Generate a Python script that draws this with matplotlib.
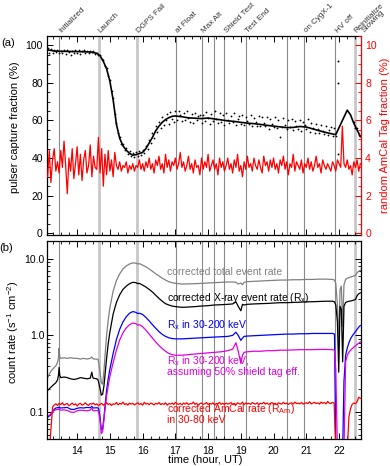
import numpy as np
import matplotlib
matplotlib.use('Agg')
import matplotlib.pyplot as plt
from matplotlib.ticker import MultipleLocator, FixedLocator, FixedFormatter, LogLocator, NullFormatter

plt.rcParams['font.family'] = ['Liberation Sans', 'DejaVu Sans']
plt.rcParams['mathtext.default'] = 'regular'
plt.rcParams['font.size'] = 7.5

# ---------------- events ----------------
event_times = [13.45, 14.66, 15.84, 17.01, 17.81, 18.18, 18.50, 19.16, 20.41, 20.94, 21.89, 22.48]
event_light = [False, True, True, False, False, False, False, False, False, False, False, True]
label_times = [13.45, 14.66, 15.84, 17.01, 17.81, 18.50, 19.16, 20.94, 21.89, 22.48]
label_texts = ['Initialized', 'Launch', 'DGPS Fail', 'at Float', 'Max Alt', 'Shield Test',
               'Test End', 'on CygX-1', 'HV off', 'Reinitialize']
label2_time = 22.48
label2_text = 'Stowing'

# ---------------- panel (a) ----------------
sample_start = 13.10
sample_step = 0.05

pulser_t = [13.10, 13.30, 13.60, 14.00, 14.40, 14.60, 14.70, 14.80, 14.90, 15.00,
            15.10, 15.20, 15.30, 15.40, 15.50, 15.60, 15.70, 15.80, 15.90, 16.00,
            16.10, 16.20, 16.30, 16.40, 16.50, 16.60, 16.70, 16.80, 16.90, 17.00,
            17.20, 17.40, 17.60, 17.80, 18.00, 18.20, 18.40, 18.60, 18.80, 19.00,
            19.20, 19.40, 19.60, 19.80, 20.00, 20.20, 20.40, 20.60, 20.80, 21.00,
            21.20, 21.40, 21.60, 21.80, 21.90, 22.25, 22.35, 22.45, 22.55, 22.65]
pulser_v = [97.6, 97.0, 96.8, 96.7, 96.5, 95.8, 94.5, 91.5, 87.5, 81.0,
            71.0, 58.0, 50.5, 46.5, 44.2, 42.5, 41.5, 41.8, 42.4, 43.0,
            45.0, 48.0, 51.0, 54.5, 57.0, 59.0, 60.5, 61.5, 62.2, 62.4,
            62.0, 61.4, 61.2, 61.0, 61.3, 60.8, 60.3, 59.8, 59.5, 59.0,
            58.6, 58.3, 57.9, 57.4, 57.0, 56.6, 56.2, 56.3, 56.8, 56.5,
            55.5, 54.5, 53.6, 52.8, 52.5, 65.5, 63.0, 58.5, 55.0, 51.5]

nan = float('nan')
pulser_dots = [98.5, 96.2, 97.9, 96.0, 97.8, 96.3, 97.5, 95.9, 97.2, 96.0,
               97.6, 95.6, 97.3, 96.4, 94.9, 97.1, 96.2, 97.8, 96.0, 97.3,
               95.4, 96.9, 97.5, 96.1, 97.2, 95.8, 97.0, 96.3, 96.9, 95.5,
               96.2, 94.7, 95.0, 92.6, 92.0, 89.1, 88.2, 83.8, 81.7, 75.6,
               71.9, 63.6, 58.8, 53.2, 51.4, 47.5, 47.3, 44.4, 45.1, 42.4,
               43.6, 41.0, 42.7, 40.4, 43.0, 41.2, 43.9, 41.5, 44.2, 42.6,
               46.3, 45.0, 49.6, 47.8, 53.1, 50.9, 56.8, 53.6, 59.4, 55.9,
               61.7, 57.4, 60.2, 63.5, 58.2, 64.6, 61.0, 59.3, 65.2, 60.1,
               64.8, 62.9, 59.7, 63.9, 60.4, 65.1, 61.5, 59.2, 63.6, 58.8,
               64.2, 60.0, 62.5, 63.1, 58.6, 62.9, 59.5, 64.4, 61.2, 58.3,
               63.3, 59.9, 64.9, 61.0, 58.7, 63.8, 59.4, 62.7, 57.6, 63.9,
               60.2, 58.5, 62.4, 59.1, 64.2, 57.8, 60.9, 62.6, 58.2, 63.1,
               57.5, 61.8, 59.6, 58.0, 62.9, 56.9, 61.5, 59.2, 57.3, 62.2,
               56.8, 61.9, 58.5, 57.1, 62.0, 55.6, 60.9, 58.1, 56.4, 61.6,
               55.9, 60.4, 51.0, 56.7, 61.3, 57.4, 55.2, 60.1, 56.3, 60.6,
               54.9, 59.8, 57.0, 55.7, 60.3, 54.6, 59.2, 57.6, 55.3, 60.8,
               54.0, 58.6, 56.1, 53.5, 58.0, 55.4, 53.1, 57.4, 54.6, 52.6,
               57.0, 52.4, 55.1, 56.3, 51.7, 55.8, 51.5,
               nan, nan, nan, nan, nan, nan, nan, nan, nan, nan,
               59.3, 55.9, 56.2, 52.4, 52.0]
outlier_t = [21.97, 21.97, 21.98]
outlier_v = [91.6, 80.0, 42.0]

amcal_tag_pct = [3.0, 4.4, 2.7, 3.9, 4.5, 3.3, 3.8, 3.2, 4.4, 3.5,
                 4.9, 3.6, 2.1, 4.0, 3.3, 4.5, 2.9, 3.7, 4.6, 3.1,
                 4.2, 2.8, 3.9, 4.4, 3.2, 3.6, 4.7, 3.0, 4.1, 3.5,
                 3.4, 5.1, 3.2, 4.5, 2.5, 4.2, 3.1, 4.4, 3.3, 3.9,
                 3.0, 4.3, 3.6, 3.4, 3.8, 3.3, 3.6, 3.5, 3.8, 3.2,
                 3.6, 3.4, 3.7, 3.3, 3.6, 3.5, 3.9, 3.4, 3.7, 3.3,
                 3.8, 3.5, 4.0, 3.4, 3.7, 3.2, 3.9, 3.6, 4.1, 3.4,
                 3.7, 3.2, 4.2, 3.5, 3.9, 3.3, 3.8, 3.6, 4.0, 3.4,
                 3.7, 4.3, 3.5, 3.8, 3.3, 3.6, 4.1, 3.4, 3.7, 3.2,
                 3.9, 3.5, 3.6, 3.1, 4.0, 3.4, 3.8, 3.5, 4.2, 3.3,
                 3.6, 3.9, 3.4, 3.7, 3.1, 4.0, 3.5, 3.8, 3.3, 3.6,
                 4.0, 3.4, 3.7, 3.2, 3.9, 3.5, 4.2, 3.3, 3.6, 3.0,
                 3.8, 3.4, 4.1, 3.5, 3.7, 3.3, 4.0, 3.6, 3.4, 3.9,
                 3.5, 3.2, 4.1, 3.6, 3.8, 3.3, 3.9, 3.5, 4.0, 3.4,
                 3.7, 3.2, 3.9, 3.6, 4.1, 3.4, 3.8, 3.1, 3.7, 3.5,
                 4.2, 3.3, 3.8, 3.6, 3.4, 3.9, 3.2, 3.7, 3.5, 4.0,
                 3.4, 3.8, 3.3, 3.6, 4.1, 3.5, 3.7, 3.2, 3.9, 3.6,
                 3.4, 3.7, 3.5, 3.3, 3.8, 3.6, 3.3, 3.9, 3.7, 3.5,
                 5.7, 3.7, 3.5, 3.9, 3.4, 3.6, 3.1, 3.8, 3.5, 3.9,
                 3.3, 3.7]

# ---------------- panel (b) ----------------
rate_t = [13.10, 13.15, 13.20, 13.25, 13.30, 13.35, 13.40, 13.43, 13.45, 13.47,
          13.50, 13.60, 13.70, 13.80, 13.90, 14.00, 14.10, 14.20, 14.30, 14.40,
          14.45, 14.48, 14.50, 14.60, 14.64, 14.66, 14.70, 14.74, 14.78, 14.82,
          14.86, 14.90, 14.95, 15.00, 15.10, 15.20, 15.30, 15.40, 15.50, 15.60,
          15.70, 15.80, 15.85, 15.90, 16.00, 16.10, 16.20, 16.30, 16.40, 16.50,
          16.60, 16.70, 16.80, 16.90, 17.00, 17.20, 17.40, 17.60, 17.80, 18.00,
          18.20, 18.40, 18.60, 18.75, 18.85, 18.92, 19.00, 19.05, 19.10, 19.20,
          19.40, 19.60, 19.80, 20.00, 20.20, 20.40, 20.60, 20.80, 21.00, 21.20,
          21.40, 21.60, 21.80, 21.86, 21.90, 21.95, 21.99, 22.03, 22.07, 22.11,
          22.15, 22.20, 22.25, 22.30, 22.35, 22.40, 22.45, 22.50, 22.55, 22.60,
          22.65]
total_rate = [0.28, 0.31, 0.34, 0.36, 0.38, 0.40, 0.44, 0.50, 0.68, 0.52,
              0.50, 0.51, 0.50, 0.51, 0.50, 0.50, 0.49, 0.50, 0.49, 0.50,
              0.52, 0.50, 0.49, 0.49, 0.48, 0.44, 0.33, 0.24, 0.23, 0.35,
              0.60, 1.00, 1.6, 2.3, 3.8, 5.2, 6.4, 7.4, 8.1, 8.6,
              8.9, 8.8, 8.6, 8.7, 8.3, 7.9, 7.4, 6.9, 6.4, 6.0,
              5.6, 5.3, 5.05, 4.9, 4.8, 4.7, 4.72, 4.75, 4.8, 4.85,
              4.9, 4.95, 5.0, 5.0, 4.95, 4.7, 4.85, 4.6, 4.95, 5.05,
              5.1, 5.15, 5.2, 5.25, 5.3, 5.3, 5.35, 5.35, 5.4, 5.4,
              5.45, 5.45, 5.4, 5.3, 4.8, 2.5, 0.8, 4.0, 4.4, 1.3,
              4.6, 5.4, 5.6, 5.7, 5.8, 5.9, 6.0, 6.1, 6.6, 6.9,
              7.1]
xray_rate = [0.19, 0.20, 0.21, 0.22, 0.23, 0.24, 0.26, 0.30, 0.38, 0.30,
             0.28, 0.285, 0.28, 0.27, 0.265, 0.27, 0.28, 0.275, 0.27, 0.275,
             0.33, 0.28, 0.275, 0.27, 0.26, 0.24, 0.20, 0.165, 0.17, 0.22,
             0.33, 0.50, 0.78, 1.10, 1.9, 2.7, 3.4, 4.0, 4.4, 4.75,
             4.95, 4.9, 4.75, 4.8, 4.55, 4.3, 4.0, 3.7, 3.35, 3.05,
             2.8, 2.6, 2.5, 2.42, 2.38, 2.33, 2.35, 2.38, 2.42, 2.45,
             2.5, 2.52, 2.55, 2.58, 2.75, 2.4, 2.1, 2.55, 2.5, 2.55,
             2.58, 2.6, 2.62, 2.65, 2.68, 2.68, 2.7, 2.72, 2.75, 2.76,
             2.78, 2.8, 2.8, 2.75, 2.5, 1.5, 0.33, 2.4, 2.2, 0.45,
             2.4, 2.7, 2.75, 2.8, 2.82, 2.85, 2.9, 2.95, 3.3, 3.5,
             3.6]
xray_30_200 = [0.085, 0.088, 0.092, 0.100, 0.108, 0.112, 0.113, 0.114, 0.115, 0.113,
               0.112, 0.113, 0.114, 0.108, 0.107, 0.111, 0.113, 0.112, 0.114, 0.113,
               0.118, 0.113, 0.112, 0.113, 0.112, 0.108, 0.085, 0.058, 0.060, 0.085,
               0.13, 0.19, 0.27, 0.36, 0.58, 0.88, 1.2, 1.5, 1.75, 1.95,
               2.05, 2.0, 1.93, 1.95, 1.88, 1.72, 1.55, 1.38, 1.24, 1.12,
               1.03, 0.97, 0.93, 0.91, 0.90, 0.90, 0.91, 0.92, 0.93, 0.94,
               0.95, 0.96, 0.97, 1.0, 1.1, 1.0, 0.86, 0.92, 0.97, 0.98,
               0.99, 1.0, 1.01, 1.02, 1.03, 1.04, 1.04, 1.05, 1.05, 1.06,
               1.06, 1.06, 1.06, 1.04, 0.03, 0.03, 0.03, 0.03, 0.03, 0.03,
               0.25, 0.55, 0.68, 0.8, 0.9, 0.98, 1.05, 1.12, 1.2, 1.28,
               1.35]
xray_30_200_shield = [0.088, 0.090, 0.094, 0.100, 0.104, 0.106, 0.107, 0.108, 0.110, 0.107,
                      0.105, 0.106, 0.104, 0.099, 0.098, 0.103, 0.105, 0.104, 0.103, 0.105,
                      0.112, 0.104, 0.103, 0.104, 0.103, 0.099, 0.078, 0.052, 0.055, 0.078,
                      0.115, 0.16, 0.22, 0.29, 0.44, 0.64, 0.87, 1.08, 1.25, 1.38,
                      1.45, 1.42, 1.36, 1.38, 1.30, 1.17, 1.04, 0.92, 0.82, 0.74,
                      0.67, 0.62, 0.58, 0.56, 0.55, 0.55, 0.56, 0.57, 0.58, 0.59,
                      0.60, 0.61, 0.63, 0.66, 0.80, 0.62, 0.43, 0.55, 0.60, 0.61,
                      0.62, 0.62, 0.63, 0.63, 0.64, 0.64, 0.645, 0.65, 0.65, 0.65,
                      0.655, 0.655, 0.65, 0.64, 0.35, 0.03, 0.03, 0.03, 0.03, 0.03,
                      0.03, 0.45, 0.55, 0.60, 0.64, 0.67, 0.70, 0.73, 0.76, 0.79,
                      0.82]
amcal_rate = [0.03, 0.03, 0.06, 0.115,
              0.123, 0.127, 0.121, 0.129, 0.124, 0.131, 0.122, 0.126, 0.128, 0.120,
              0.125, 0.130, 0.123, 0.127, 0.119, 0.126, 0.129, 0.122, 0.125, 0.131,
              0.124, 0.121, 0.128, 0.126, 0.130, 0.123, 0.127, 0.120, 0.125, 0.129,
              0.122, 0.126, 0.131, 0.124, 0.128, 0.121, 0.127, 0.125, 0.132, 0.123,
              0.129, 0.126, 0.134, 0.124, 0.128, 0.122, 0.130, 0.126, 0.129, 0.123,
              0.127, 0.131, 0.125, 0.128, 0.122, 0.133, 0.126, 0.129, 0.124, 0.130,
              0.127, 0.123, 0.129, 0.126, 0.132, 0.124, 0.128, 0.125, 0.131, 0.122,
              0.128, 0.126, 0.130, 0.124, 0.133, 0.127, 0.125, 0.129, 0.123, 0.130,
              0.126, 0.131, 0.124, 0.128, 0.127, 0.134, 0.125, 0.129, 0.122, 0.128,
              0.130, 0.125, 0.127, 0.132, 0.124, 0.129, 0.126, 0.131, 0.123, 0.128,
              0.127, 0.133, 0.125, 0.129, 0.124, 0.130, 0.126, 0.128, 0.132, 0.125,
              0.129, 0.123, 0.131, 0.127, 0.126, 0.134, 0.124, 0.130, 0.127, 0.129,
              0.125, 0.132, 0.128, 0.126, 0.131, 0.124, 0.129, 0.127, 0.133, 0.126,
              0.130, 0.125, 0.128, 0.132, 0.127, 0.129, 0.124, 0.131, 0.128, 0.126,
              0.133, 0.127, 0.130, 0.125, 0.129, 0.131, 0.126, 0.134, 0.128, 0.130,
              0.127, 0.132, 0.126, 0.129, 0.131, 0.128, 0.135, 0.127, 0.130, 0.133,
              0.128, 0.131, 0.126, 0.134, 0.129, 0.132, 0.127, 0.136, 0.130, 0.128,
              0.133, 0.130,
              0.03, 0.03, 0.03, 0.03, 0.03, 0.03, 0.03, 0.03,
              0.085, 0.11, 0.125, 0.13, 0.128, 0.135, 0.155, 0.15]

xticks = [14, 15, 16, 17, 18, 19, 20, 21, 22]
rate_ticks = [0.1, 1.0, 10.0]
rate_ticklabels = ['0.1', '1.0', '10.0']

# ---------------- figure ----------------
W, H = 390, 466
fig = plt.figure(figsize=(W / 100, H / 100), dpi=100)

def box(l, t, r, b):
    return [l / W, 1 - b / H, (r - l) / W, (b - t) / H]

ax1 = fig.add_axes(box(47, 36, 361, 235))
ax2 = fig.add_axes(box(47, 241, 361, 439))
xlim = (13.08, 22.67)

dark_gray = '#8a8a8a'
light_gray = '#c8c8c8'
for ax in (ax1, ax2):
    for t, light in zip(event_times, event_light):
        if light:
            ax.axvline(t, color=light_gray, lw=2.0, zorder=0.5)
        else:
            ax.axvline(t, color=dark_gray, lw=0.8, zorder=0.5)
    ax.set_xlim(*xlim)
    ax.xaxis.set_major_locator(FixedLocator(xticks))
    ax.xaxis.set_minor_locator(MultipleLocator(0.25))
    ax.tick_params(axis='x', which='both', direction='in', top=True, bottom=True)
    ax.tick_params(axis='both', which='major', length=4.5, width=0.7)
    ax.tick_params(axis='both', which='minor', length=2.2, width=0.6)
    for s in ax.spines.values():
        s.set_linewidth(0.9)

# panel (a)
top_t = sample_start + sample_step * np.arange(len(pulser_dots))
ax1.plot(top_t, pulser_dots, ls='none', marker='o', ms=1.3, mec='none', mfc='black', zorder=3)
ax1.plot(outlier_t, outlier_v, ls='none', marker='o', ms=1.4, mec='none', mfc='black', zorder=3)
ax1.plot(pulser_t, pulser_v, color='black', lw=1.2, zorder=4)
ax1.set_ylim(-1, 105)
ax1.yaxis.set_major_locator(MultipleLocator(20))
ax1.yaxis.set_minor_locator(MultipleLocator(5))
ax1.tick_params(axis='y', which='both', direction='in', left=True, right=False, pad=3)
ax1.tick_params(axis='x', labelbottom=False)
ax1.spines['right'].set_visible(False)

ax1r = ax1.twinx()
red_t = sample_start + sample_step * np.arange(len(amcal_tag_pct))
ax1r.plot(red_t, amcal_tag_pct, color='#ff0000', lw=0.9, zorder=2)
ax1r.set_ylim(-0.1, 10.5)
ax1r.set_xlim(*xlim)
ax1r.yaxis.set_major_locator(MultipleLocator(2))
ax1r.yaxis.set_minor_locator(MultipleLocator(0.5))
ax1r.tick_params(axis='y', which='both', direction='in', colors='#ff0000', pad=3)
ax1r.tick_params(axis='y', which='major', length=4.5, width=0.7)
ax1r.tick_params(axis='y', which='minor', length=2.2, width=0.6)
ax1r.spines['right'].set_color('#ff0000')
ax1r.spines['right'].set_linewidth(0.9)
for side in ('left', 'top', 'bottom'):
    ax1r.spines[side].set_visible(False)

# event labels
lab_fs = 5.8
for t, txt in zip(label_times, label_texts):
    ax1.annotate(txt, xy=(t, 1), xycoords=('data', 'axes fraction'), xytext=(2.5, 1.5),
                 textcoords='offset points', rotation=45, rotation_mode='anchor',
                 ha='left', va='bottom', fontsize=lab_fs, color='#333333', annotation_clip=False)
ax1.annotate(label2_text, xy=(label2_time, 1), xycoords=('data', 'axes fraction'), xytext=(8.0, 1.5),
             textcoords='offset points', rotation=45, rotation_mode='anchor',
             ha='left', va='bottom', fontsize=lab_fs, color='#333333', annotation_clip=False)

# panel (b)
bot_red_t = sample_start + sample_step * np.arange(len(amcal_rate))
ax2.plot(rate_t, total_rate, color='#808080', lw=0.9, zorder=2)
ax2.plot(rate_t, xray_rate, color='black', lw=0.9, zorder=2)
ax2.plot(rate_t, xray_30_200, color='#0000ff', lw=0.9, zorder=2)
ax2.plot(rate_t, xray_30_200_shield, color='#e000e0', lw=0.9, zorder=2)
ax2.plot(bot_red_t, amcal_rate, color='#ff0000', lw=0.9, zorder=2)
ax2.set_yscale('log')
ax2.set_ylim(0.044, 17.2)
ax2.yaxis.set_major_locator(FixedLocator(rate_ticks))
ax2.yaxis.set_major_formatter(FixedFormatter(rate_ticklabels))
ax2.yaxis.set_minor_locator(LogLocator(base=10, subs=np.arange(2, 10)))
ax2.yaxis.set_minor_formatter(NullFormatter())
ax2.tick_params(axis='y', which='both', direction='in', left=True, right=True, pad=2)
ax2.tick_params(axis='x', pad=5)

tx = 16.74
tfs = 7.5
ax2.text(tx, 6.7, 'corrected total event rate', color='#808080', va='center', fontsize=tfs)
ax2.text(tx, 3.08, 'corrected X-ray event rate (R$_x$)', color='black', va='center', fontsize=tfs)
ax2.text(tx, 1.37, 'R$_x$ in 30-200 keV', color='#0000ff', va='center', fontsize=tfs)
ax2.text(tx, 0.465, 'R$_x$ in 30-200 keV,', color='#e000e0', va='center', fontsize=tfs)
ax2.text(tx, 0.33, 'assuming 50% shield tag eff.', color='#e000e0', va='center', fontsize=tfs)
ax2.text(tx, 0.11, 'corrected AmCal rate (R$_{Am}$)', color='#ff0000', va='center', fontsize=tfs)
ax2.text(tx, 0.0785, 'in 30-80 keV', color='#ff0000', va='center', fontsize=tfs)

# axis labels
fig.text(15 / W, 1 - 127 / H, 'pulser capture fraction (%)', rotation=90, ha='center', va='center', fontsize=8)
fig.text(385 / W, 1 - 135.5 / H, 'random AmCal Tag fraction (%)', rotation=90, ha='center', va='center',
         fontsize=8, color='#ff0000')
fig.text(13 / W, 1 - 332 / H, 'count rate (s$^{-1}$ cm$^{-2}$)', rotation=90, ha='center', va='center', fontsize=8)
fig.text(205 / W, 1 - 460 / H, 'time (hour, UT)', ha='center', va='center', fontsize=8)
fig.text(8 / W, 1 - 43 / H, '(a)', ha='center', va='center', fontsize=8)
fig.text(6 / W, 1 - 248 / H, '(b)', ha='center', va='center', fontsize=8)

fig.savefig('out.png', dpi=100)
